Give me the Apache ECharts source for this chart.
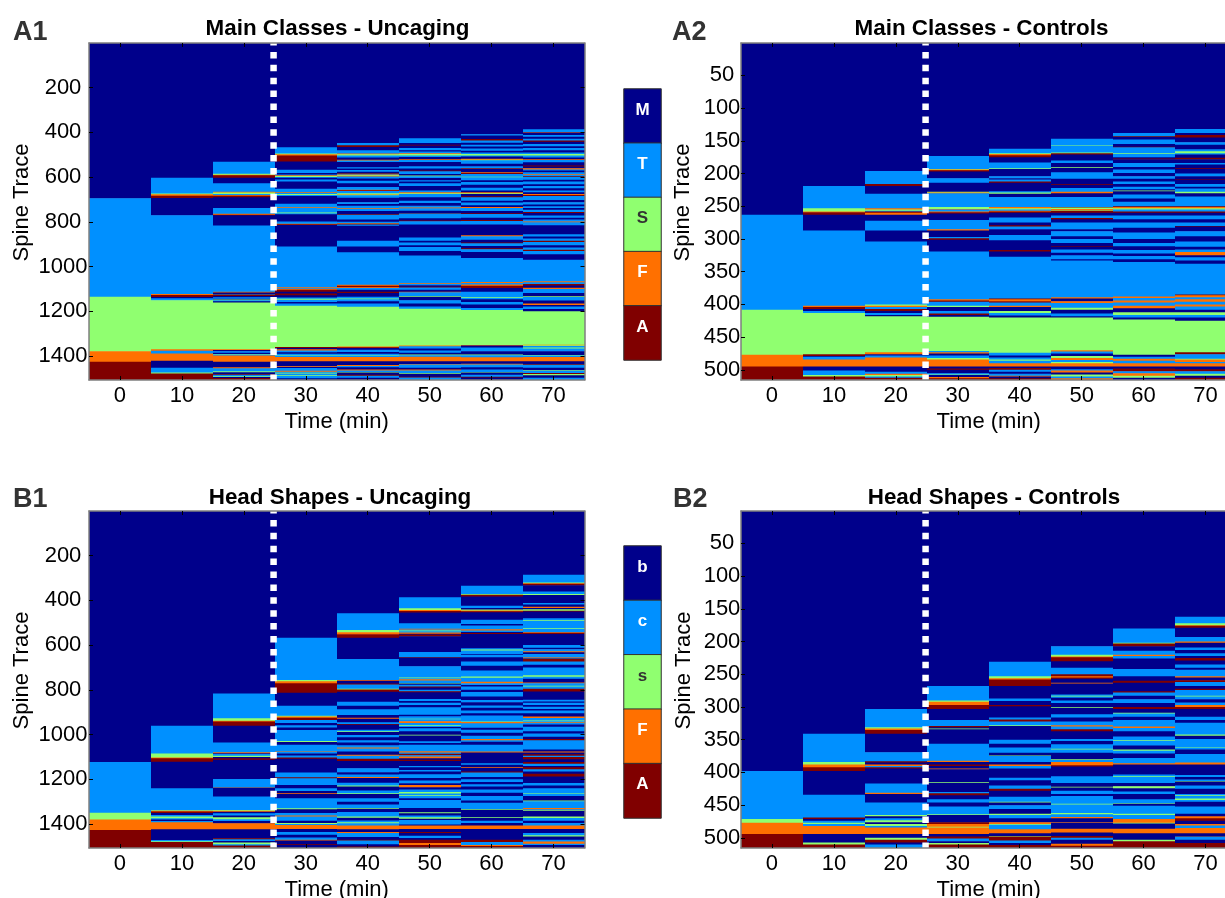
<!DOCTYPE html>
<html><head><meta charset="utf-8">
<style>html,body{margin:0;padding:0;background:#fff;overflow:hidden}#c{width:1225px;height:898px}</style>
<script src="https://cdn.jsdelivr.net/npm/echarts@6/dist/echarts.min.js"></script>
</head><body><div id="c"></div>
<script>
// class index: 0 M/b, 1 T/c, 2 S/s, 3 F, 4 A. Each list is pairs: last row of the run, class.
const classColors=['#00008B','#0090FF','#90FF70','#FF7000','#800000'];
const timeCols=[0,10,20,30,40,50,60,70];
const timeTicks=[0,10,20,30,40,50,60,70];
const ticksUncaging=[200,400,600,800,1000,1200,1400];
const ticksControls=[50,100,150,200,250,300,350,400,450,500];
const legendMain=['M','T','S','F','A'];
const legendHead=['b','c','s','F','A'];

const A1_0=[694,0,1135,1,1378,2,1425,3,1507,4];
const A1_10=[603,0,673,1,677,2,683,3,693,4,770,0,1122,1,1127,3,1136,4,1142,0,1150,1,1370,2,1376,3,1389,1,1421,3,1452,0,1474,1,1478,2,1507,4];
const A1_20=[531,0,585,1,589,2,592,3,603,4,628,0,665,1,669,3,675,2,680,1,683,3,690,4,738,0,764,1,768,3,771,4,816,0,1113,1,1116,3,1122,0,1125,1,1132,4,1137,0,1144,1,1147,0,1151,2,1155,1,1160,0,1370,2,1373,3,1378,0,1385,1,1391,0,1393,2,1397,1,1425,3,1450,0,1455,3,1468,1,1472,2,1480,0,1484,4,1490,1,1494,2,1498,0,1507,4];
const A1_30=[467,0,495,1,498,2,503,3,530,4,567,0,582,1,588,0,592,1,595,3,599,2,603,1,611,0,620,1,652,0,668,1,671,3,676,1,680,2,685,1,719,0,734,1,737,3,758,1,762,2,766,1,798,0,808,1,811,3,814,4,910,0,1091,1,1095,3,1099,1,1103,3,1112,4,1120,0,1128,4,1138,0,1144,1,1148,2,1158,1,1165,0,1175,1,1360,2,1364,4,1370,0,1375,3,1383,1,1390,0,1395,1,1398,2,1404,1,1423,3,1445,0,1449,3,1453,0,1466,1,1470,3,1475,1,1478,2,1486,1,1489,2,1499,1,1507,0];
const A1_40=[448,0,458,1,465,4,480,0,495,1,498,3,503,2,512,1,522,0,526,3,532,1,556,0,562,1,568,0,576,1,582,0,585,4,588,1,591,3,594,2,597,3,606,1,616,0,628,1,644,0,656,1,659,3,662,4,672,1,675,2,678,3,681,2,692,1,712,0,720,1,728,0,738,1,741,3,752,1,765,0,768,4,790,1,800,0,806,1,809,3,812,4,818,1,885,0,910,1,936,0,1081,1,1086,3,1092,4,1096,3,1104,1,1112,0,1118,4,1135,0,1143,1,1146,2,1155,1,1165,0,1180,1,1357,2,1361,3,1364,4,1372,0,1382,1,1390,0,1397,1,1400,2,1404,1,1423,3,1440,0,1444,3,1450,1,1460,0,1464,3,1471,1,1474,2,1484,0,1488,4,1497,1,1507,0];
const A1_50=[426,0,448,1,455,0,459,4,470,0,480,1,485,0,493,1,497,3,503,2,510,1,520,0,524,3,532,1,552,0,562,1,570,0,574,4,586,1,593,0,596,2,604,1,614,0,620,1,628,0,640,1,660,0,668,1,672,3,675,2,690,1,706,0,716,1,728,0,736,1,739,3,750,1,760,0,763,4,784,1,794,0,797,4,812,1,870,0,884,1,892,0,905,1,912,0,930,1,950,0,1073,1,1077,3,1083,1,1090,0,1094,4,1104,1,1112,0,1115,3,1132,1,1135,2,1150,0,1165,1,1178,0,1188,1,1353,2,1356,3,1366,1,1375,0,1385,1,1393,0,1396,2,1403,1,1423,3,1435,0,1438,3,1452,1,1460,0,1464,3,1476,1,1479,2,1492,0,1496,4,1507,1];
const A1_60=[408,0,414,1,430,0,436,4,446,1,455,0,463,1,472,0,482,1,490,0,497,1,503,2,508,1,518,0,522,3,525,2,540,1,552,0,560,1,564,4,578,0,582,3,586,4,598,1,601,2,614,1,622,0,634,1,648,0,660,1,668,0,672,3,675,2,686,0,690,4,706,1,714,0,726,1,734,0,738,3,752,1,762,0,765,4,782,1,792,0,796,4,812,1,860,0,864,3,880,1,892,0,896,4,908,1,918,0,922,4,935,1,962,0,1069,1,1073,3,1080,1,1086,3,1096,4,1112,0,1137,1,1140,2,1146,1,1158,0,1170,1,1185,0,1194,1,1350,2,1353,3,1362,0,1378,1,1393,0,1396,2,1405,1,1423,3,1434,0,1438,3,1450,1,1460,0,1471,1,1474,2,1484,0,1492,1,1496,4,1507,0];
const A1_70=[386,0,398,1,401,3,412,0,420,1,428,0,436,1,442,4,452,0,462,1,470,0,480,1,490,0,497,1,503,2,512,1,520,0,524,3,534,1,548,0,553,4,560,0,566,3,570,1,578,0,586,1,590,3,596,1,600,4,612,1,620,0,632,1,640,0,650,1,660,0,668,1,676,0,680,3,684,4,702,1,712,0,722,1,730,0,738,1,746,0,756,1,760,4,772,0,782,1,790,0,798,1,802,3,815,1,856,0,866,1,874,0,885,1,890,4,905,1,915,0,925,1,930,4,945,1,969,0,1066,1,1070,3,1078,1,1085,4,1095,0,1100,3,1118,1,1133,0,1136,2,1152,1,1165,0,1172,3,1178,0,1190,1,1200,0,1349,2,1352,3,1355,2,1362,1,1366,2,1378,1,1395,0,1398,2,1404,1,1423,3,1435,0,1439,4,1452,1,1463,0,1466,2,1476,1,1480,4,1486,2,1497,0,1507,1];

const A2_0=[263,0,408,1,477,2,495,3,515,4];
const A2_10=[219,0,253,1,258,2,259,3,263,4,287,0,402,1,404,3,407,4,410,0,413,1,476,2,479,4,480,0,484,1,495,3,501,0,508,1,510,2,515,4];
const A2_20=[196,0,216,1,219,4,231,0,253,1,255,3,257,2,258,1,260,4,263,3,272,0,287,1,304,0,400,1,402,2,404,3,407,1,410,4,413,0,416,1,418,0,473,2,476,3,478,0,481,1,495,3,503,0,506,1,508,3,510,2,512,1,515,4];
const A2_30=[173,0,193,1,194,2,195,3,197,4,207,0,214,1,228,0,229,2,230,3,251,1,254,2,255,3,258,1,259,3,261,4,271,0,285,1,287,3,297,0,299,1,301,4,319,0,392,1,394,3,396,4,402,1,404,2,410,0,414,1,416,4,419,0,471,2,473,1,475,3,478,0,482,1,484,2,495,3,498,0,500,4,505,0,507,1,508,2,511,0,513,3,515,4];
const A2_40=[162,0,169,1,170,2,172,3,175,4,183,0,192,1,193,2,204,0,207,1,209,0,212,1,214,4,227,0,229,1,231,2,236,0,251,1,253,3,255,2,257,1,258,3,260,4,267,0,275,1,279,0,281,4,285,1,294,0,302,1,317,0,319,4,327,0,391,1,392,4,395,3,397,4,402,1,404,3,410,0,413,2,417,1,420,0,474,2,478,1,481,0,484,1,486,2,490,1,495,3,497,0,500,4,503,1,506,0,509,1,510,3,513,0,515,4];
const A2_50=[147,0,157,1,158,2,168,1,169,2,171,4,180,0,184,1,190,0,191,2,198,0,208,1,216,0,217,4,222,0,228,1,230,3,236,0,251,1,252,4,254,2,256,3,257,2,260,4,264,0,268,1,270,4,275,0,285,1,288,0,296,1,300,0,306,1,311,0,312,4,316,0,321,1,325,0,331,1,333,0,389,1,391,3,395,0,398,3,405,1,408,2,414,0,418,1,420,0,470,2,472,3,475,1,479,0,482,2,485,3,488,1,490,2,495,3,499,0,501,1,504,3,507,0,510,2,513,1,515,3];
const A2_60=[138,0,143,1,144,4,148,0,155,1,159,0,160,4,169,1,170,2,175,1,177,0,178,4,184,0,190,1,194,0,199,1,204,0,208,1,212,0,216,1,220,0,224,1,226,0,227,2,232,0,238,1,243,0,250,1,251,4,253,3,255,2,258,1,260,4,264,0,270,1,275,0,283,1,290,0,300,1,306,0,311,1,317,0,322,1,326,0,331,1,335,0,388,1,390,3,394,1,397,3,402,1,406,3,412,0,416,2,420,1,423,0,477,2,480,0,483,1,486,3,490,1,495,3,498,0,502,4,505,1,509,3,512,2,515,0];
const A2_70=[132,0,138,1,141,0,145,4,152,0,156,1,163,0,166,1,169,2,171,1,176,0,178,4,184,0,186,1,192,0,193,4,200,0,204,1,209,0,210,4,216,0,220,1,223,0,228,1,230,2,235,0,250,1,251,4,253,3,255,2,258,1,260,4,264,0,270,1,275,0,280,1,281,4,288,0,296,1,304,0,312,1,316,0,320,1,325,3,328,0,333,1,338,0,385,1,386,4,389,3,392,1,396,3,400,1,403,3,408,1,412,0,416,2,420,1,425,0,473,2,476,4,480,1,483,1,484,2,488,3,490,1,495,3,499,0,502,4,506,1,509,2,512,0,515,4];

const B1_0=[1122,0,1349,1,1380,2,1426,3,1507,4];
const B1_10=[960,0,1084,1,1102,2,1106,3,1121,4,1240,0,1338,1,1341,2,1344,3,1350,4,1360,0,1366,1,1374,2,1380,1,1386,0,1392,1,1423,3,1471,0,1477,1,1480,2,1507,4];
const B1_20=[816,0,927,1,938,2,942,3,960,4,1035,0,1079,1,1083,3,1087,0,1095,1,1100,2,1106,0,1112,4,1198,0,1236,1,1238,3,1277,0,1337,1,1341,2,1345,3,1352,0,1362,1,1370,0,1378,2,1386,1,1396,0,1423,3,1463,0,1468,4,1476,1,1482,0,1490,2,1496,1,1507,4];
const B1_30=[567,0,756,1,762,2,771,3,813,4,871,0,916,1,919,2,925,3,935,4,948,1,958,0,968,1,980,0,1029,1,1033,2,1045,0,1076,1,1078,3,1084,1,1094,0,1102,1,1108,4,1169,0,1191,1,1195,4,1225,1,1240,0,1252,1,1262,0,1266,3,1285,0,1329,1,1334,2,1350,0,1362,1,1366,3,1385,1,1395,0,1400,2,1404,1,1422,3,1435,0,1448,1,1460,0,1470,1,1474,3,1490,0,1494,4,1507,0];
const B1_40=[458,0,533,1,542,2,551,3,567,4,662,0,756,1,759,3,772,0,776,4,795,1,799,2,808,4,853,0,871,1,887,0,912,1,925,0,929,3,945,0,953,1,956,4,978,0,985,1,988,2,1002,0,1012,1,1025,0,1035,1,1048,0,1058,1,1062,3,1076,1,1090,0,1095,3,1108,1,1118,4,1150,0,1168,1,1178,0,1190,1,1194,3,1215,0,1228,1,1232,2,1250,0,1262,1,1266,2,1285,0,1300,1,1312,0,1328,1,1332,2,1346,0,1366,1,1372,2,1384,0,1392,1,1396,2,1406,1,1423,3,1436,0,1440,3,1458,1,1470,0,1474,4,1490,1,1500,0,1507,4];
const B1_50=[386,0,435,1,443,2,447,3,454,4,502,0,527,1,530,3,535,1,538,2,544,1,549,3,553,0,560,4,631,0,654,1,657,4,694,0,745,1,748,2,753,1,758,3,769,1,772,2,777,0,785,1,790,4,800,0,806,1,811,4,841,0,850,1,858,0,868,1,878,0,911,1,918,0,929,1,932,2,940,1,948,3,957,1,960,2,966,1,972,0,985,1,1001,0,1004,2,1030,0,1038,1,1045,0,1075,1,1080,3,1086,1,1092,4,1098,1,1106,3,1112,0,1118,4,1140,0,1146,1,1158,0,1165,1,1177,0,1194,1,1205,0,1217,1,1225,0,1235,3,1246,0,1257,1,1263,2,1271,1,1274,2,1285,1,1292,0,1328,1,1347,0,1352,2,1362,0,1370,1,1376,2,1382,0,1402,1,1406,0,1422,3,1435,0,1440,4,1452,0,1462,1,1470,0,1485,4,1494,3,1507,4];
const B1_60=[335,0,371,1,375,2,383,4,424,0,434,1,441,0,445,2,449,3,453,4,487,0,506,1,512,0,529,1,535,3,541,1,546,0,550,4,614,0,620,1,624,2,640,1,643,0,654,1,673,0,692,1,713,0,740,1,746,2,764,1,770,3,778,1,785,0,800,1,810,0,830,1,845,0,855,1,870,0,880,1,892,0,905,1,915,0,941,1,944,2,949,3,970,1,978,0,992,1,1005,0,1020,1,1025,3,1032,1,1045,0,1076,1,1080,3,1128,0,1135,1,1145,0,1148,3,1165,0,1169,4,1190,1,1200,0,1212,1,1222,0,1232,1,1245,0,1260,1,1275,0,1295,1,1305,0,1333,1,1336,2,1370,0,1373,2,1385,0,1395,1,1406,0,1422,3,1470,0,1480,4,1494,1,1498,3,1507,4];
const B1_70=[286,0,320,1,323,2,326,3,332,4,360,0,372,1,376,2,412,0,418,1,428,0,434,3,440,0,446,2,450,4,480,0,488,1,491,2,524,1,527,2,542,1,545,3,550,4,599,0,612,1,618,0,628,1,632,3,640,0,654,1,657,3,660,1,673,4,688,1,700,0,735,1,741,2,750,1,767,0,770,3,782,1,785,2,795,1,807,4,844,0,852,1,858,0,868,1,876,0,886,1,892,0,905,1,919,0,926,3,937,1,940,2,945,1,948,3,955,1,965,0,985,1,995,0,1010,1,1020,0,1025,4,1067,1,1076,0,1080,3,1088,0,1095,4,1100,1,1110,4,1122,0,1130,4,1140,1,1146,0,1155,4,1165,1,1175,0,1187,4,1216,0,1228,1,1240,0,1262,1,1265,2,1275,1,1295,0,1298,2,1328,1,1334,3,1337,1,1340,2,1366,0,1373,2,1385,1,1395,0,1406,1,1422,3,1440,0,1450,1,1456,2,1470,0,1478,1,1488,3,1494,1,1507,0];

const B2_0=[398,0,471,1,477,2,494,3,515,4];
const B2_10=[341,0,384,1,388,2,392,3,398,4,434,0,469,1,471,4,474,0,477,1,479,2,482,1,494,3,507,0,510,2,515,4];
const B2_20=[303,0,331,1,333,2,335,3,341,4,369,0,383,1,385,4,388,0,390,3,392,1,394,4,417,0,431,1,433,3,446,0,465,1,467,2,470,0,473,1,476,2,479,0,482,2,484,1,494,3,500,0,503,2,507,4,510,0,515,1];
const B2_30=[268,0,290,1,292,2,297,3,303,4,320,0,329,1,331,4,333,0,334,2,356,0,382,1,384,3,388,0,390,4,394,0,395,3,415,0,416,2,430,0,432,1,435,4,441,0,446,1,452,0,464,1,465,2,476,0,479,4,483,3,484,2,494,3,498,0,501,4,505,1,508,0,510,2,515,4];
const B2_40=[231,0,253,1,256,2,258,3,268,4,287,0,291,1,297,0,299,4,316,0,319,1,322,4,328,1,329,2,350,0,356,1,362,0,370,1,374,0,375,2,384,1,388,0,390,3,394,1,408,0,412,1,420,0,425,1,428,4,437,0,442,1,445,1,446,2,450,0,456,1,463,0,465,2,470,1,476,0,479,3,480,2,487,1,493,3,497,0,498,2,504,4,508,1,511,0,515,4];
const B2_50=[207,0,220,1,223,2,224,3,230,4,240,0,250,1,253,4,255,3,257,4,263,0,264,3,281,0,283,1,284,2,286,1,290,0,294,1,300,0,301,2,311,0,316,1,322,0,328,1,330,3,334,1,337,4,349,0,352,1,357,0,364,1,365,2,370,1,380,0,381,2,384,1,389,3,391,4,406,0,416,1,422,0,423,2,428,0,433,1,436,0,448,1,449,2,462,1,464,2,468,1,470,3,476,0,477,3,486,0,492,3,497,0,500,4,503,1,509,0,512,3,515,4];
const B2_60=[180,0,202,1,203,2,207,4,214,0,220,1,222,3,226,1,242,0,253,1,260,0,263,4,276,0,278,4,283,1,288,0,294,1,300,0,303,4,309,0,310,2,315,1,320,0,330,1,332,3,337,1,345,0,351,1,352,2,359,1,365,0,367,2,371,1,378,0,386,1,388,3,403,0,406,1,407,2,416,1,421,0,424,2,429,0,433,1,441,0,447,1,448,2,451,0,463,1,465,2,471,1,473,3,477,3,478,2,486,0,493,3,503,0,505,2,515,4];
const B2_70=[162,0,172,1,175,2,176,3,179,4,193,0,200,1,202,3,209,0,213,1,218,0,222,1,225,0,229,4,235,0,240,1,243,0,253,1,255,3,259,0,262,4,268,1,272,0,274,4,283,1,284,2,288,1,293,0,297,1,300,3,303,4,315,0,320,1,324,0,342,1,344,2,349,0,355,1,361,1,362,2,365,1,372,0,385,1,388,3,404,0,407,1,411,0,413,1,414,2,420,0,425,1,433,0,435,1,436,2,440,1,442,2,445,1,452,0,463,1,467,0,470,3,474,4,479,0,481,3,485,1,493,3,497,0,498,4,503,1,508,0,515,4];

const A1=[A1_0,A1_10,A1_20,A1_30,A1_40,A1_50,A1_60,A1_70];
const A2=[A2_0,A2_10,A2_20,A2_30,A2_40,A2_50,A2_60,A2_70];
const B1=[B1_0,B1_10,B1_20,B1_30,B1_40,B1_50,B1_60,B1_70];
const B2=[B2_0,B2_10,B2_20,B2_30,B2_40,B2_50,B2_60,B2_70];

const panels=[
 {runs:A1,title:'Main Classes - Uncaging',tag:'A1',left:89,top:43,ymax:1507,ticks:ticksUncaging,lm:26,ng:56,pad:10,tx:337.5,ty:18,tagx:13,tagy:19},
 {runs:A2,title:'Main Classes - Controls',tag:'A2',left:741,top:43,ymax:515.5,ticks:ticksControls,lm:19,ng:47,pad:11,tx:981.5,ty:18,tagx:672,tagy:19},
 {runs:B1,title:'Head Shapes - Uncaging',tag:'B1',left:89,top:511,ymax:1507,ticks:ticksUncaging,lm:26,ng:56,pad:11,tx:340,ty:487,tagx:13,tagy:486},
 {runs:B2,title:'Head Shapes - Controls',tag:'B2',left:741,top:511,ymax:515.5,ticks:ticksControls,lm:19,ng:46,pad:11,tx:994,ty:487,tagx:673,tagy:486}
];
const font='"Liberation Sans",Arial,sans-serif';
const frame={show:true,onZero:false,lineStyle:{color:'#7f7f7f',width:1.5}};
const inTick=(vals)=>({show:true,inside:true,length:4,customValues:vals,lineStyle:{color:'#000',width:1}});

function renderRun(params,api){
  const a=api.coord([api.value(0)-5,api.value(1)]);
  const b=api.coord([api.value(0)+5,api.value(2)]);
  const x=Math.round(a[0]);
  return {type:'rect',shape:{x:x,y:a[1],width:Math.round(b[0])-x,height:b[1]-a[1]+0.7},
    style:{fill:classColors[api.value(3)]}};
}

const grid=[],xAxis=[],yAxis=[],series=[],title=[];
panels.forEach((p,i)=>{
  grid.push({left:p.left,top:p.top,width:495.5,height:337,show:false,outerBoundsMode:'none'});
  const xi=xAxis.length, yi=yAxis.length;
  xAxis.push({type:'value',gridIndex:i,min:-5,max:75,position:'bottom',z:10,axisLine:frame,axisTick:inTick(timeTicks),splitLine:{show:false},
    axisLabel:{show:true,customValues:timeTicks,fontFamily:font,fontSize:22,color:'#000',margin:5},
    name:'Time (min)',nameLocation:'middle',nameGap:31,nameMoveOverlap:false,nameTextStyle:{fontFamily:font,fontSize:22,color:'#000'}});
  xAxis.push({type:'value',gridIndex:i,min:-5,max:75,position:'top',z:10,axisLine:frame,axisTick:inTick(timeTicks),axisLabel:{show:false},splitLine:{show:false}});
  yAxis.push({type:'value',gridIndex:i,inverse:true,min:0.5,max:p.ymax,position:'left',z:10,axisLine:frame,axisTick:inTick(p.ticks),splitLine:{show:false},
    axisLabel:{show:true,customValues:p.ticks,align:'center',margin:p.lm,fontFamily:font,fontSize:22,color:'#000',padding:[p.pad,0,0,0],formatter:v=>String(v)},
    name:'Spine Trace',nameLocation:'middle',nameGap:p.ng,nameMoveOverlap:false,nameTextStyle:{fontFamily:font,fontSize:22,color:'#000',padding:[0,0,0,18]}});
  yAxis.push({type:'value',gridIndex:i,inverse:true,min:0.5,max:p.ymax,position:'right',z:10,axisLine:frame,axisTick:inTick(p.ticks),axisLabel:{show:false},splitLine:{show:false}});
  const data=[];
  p.runs.forEach((col,c)=>{
    let start=0.5;
    for(let k=0;k<col.length;k+=2){data.push([timeCols[c],start,col[k],col[k+1]]);start=col[k];}
  });
  series.push({type:'custom',xAxisIndex:xi,yAxisIndex:yi,renderItem:renderRun,data:data,encode:{x:0,y:[1,2]},clip:true,silent:true,z:2,progressive:0});
  series.push({type:'line',xAxisIndex:xi,yAxisIndex:yi,data:[[24.8,0.5],[24.8,p.ymax]],symbol:'none',silent:true,z:5,
    lineStyle:{color:'#fff',width:6.5,type:[6.5,6.4],dashOffset:4}});
  title.push({text:p.title,left:p.tx,top:p.ty,padding:0,textAlign:'center',textStyle:{fontFamily:font,fontSize:22.4,fontWeight:'bold',color:'#000'}});
  title.push({text:p.tag,left:p.tagx,top:p.tagy,padding:0,textStyle:{fontFamily:font,fontSize:27,fontWeight:'bold',color:'#333'}});
});
// class legends
[[89,271,legendMain],[546,272,legendHead]].forEach(([top,h,names])=>{
  const gi=grid.length;
  grid.push({left:624,top:top,width:37,height:h,show:false,outerBoundsMode:'none'});
  const xi=xAxis.length, yi=yAxis.length;
  xAxis.push({type:'category',gridIndex:gi,data:['c'],show:false});
  yAxis.push({type:'category',gridIndex:gi,data:names,inverse:true,show:false});
  series.push({type:'heatmap',xAxisIndex:xi,yAxisIndex:yi,silent:true,
    data:names.map((n,k)=>({value:[0,k,k],itemStyle:{color:classColors[k],borderColor:'#333',borderWidth:1},
      label:{show:true,formatter:n,color:k===2?'#333':'#fff',fontFamily:font,fontWeight:'bold',fontSize:17,offset:[0,-6]}}))});
});
const chart=echarts.init(document.getElementById('c'),null,{renderer:'canvas'});
chart.setOption({animation:false,backgroundColor:'#fff',title,grid,xAxis,yAxis,series,tooltip:{show:false}});
</script></body></html>
